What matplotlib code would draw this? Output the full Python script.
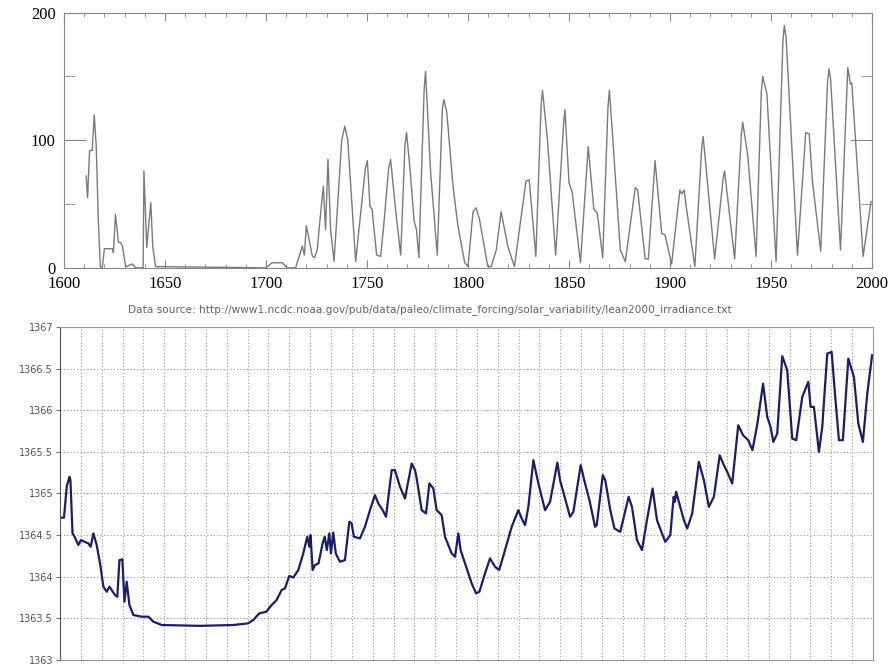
import numpy as np
import matplotlib
matplotlib.use("Agg")
import matplotlib.pyplot as plt
from matplotlib.ticker import MultipleLocator

# --- sunspot number ---
ss_year = [1611, 1611.7, 1612.7, 1614, 1615, 1616, 1617, 1618, 1619, 1620,
           1624, 1624.5, 1625.5, 1627, 1628, 1629, 1630.5, 1634, 1635.5, 1639.2,
           1639.6, 1641, 1643, 1644, 1645.4, 1700, 1703, 1708, 1710.6, 1714.7,
           1718, 1719, 1720, 1723, 1724, 1725.4, 1726.7, 1728.4, 1729.5, 1730.7,
           1732, 1733.7, 1737.5, 1739, 1740.5, 1744.4, 1749.2, 1750.2, 1751.5, 1752.5,
           1754.8, 1756.8, 1758.4, 1760.7, 1761.7, 1764, 1766.7, 1768.8, 1769.6, 1771.5,
           1773.3, 1774.5, 1775.7, 1778.3, 1779, 1781.5, 1784.8, 1787.3, 1788, 1789.5,
           1792.6, 1795, 1798.4, 1800, 1802.5, 1804, 1805.7, 1809.8, 1811.5, 1814,
           1816.4, 1819.7, 1823, 1828.7, 1830.3, 1833.6, 1836.2, 1836.9, 1839.3, 1843.4,
           1847.3, 1848, 1850, 1851.6, 1855.7, 1859.5, 1862.3, 1864, 1866.7, 1869.3,
           1870, 1871.3, 1875.4, 1877.9, 1882.8, 1884, 1887.7, 1889.3, 1892.6, 1895.9,
           1897.5, 1900.8, 1904.9, 1905.8, 1907, 1908.2, 1912.3, 1915.7, 1916.4, 1922.1,
           1926.3, 1927, 1932, 1935.3, 1936, 1938.5, 1942.6, 1945.2, 1945.9, 1948,
           1952.5, 1955.9, 1956.6, 1957.5, 1963.1, 1967.2, 1968.9, 1970.5, 1974.6, 1978,
           1978.7, 1979.5, 1984.4, 1988, 1989.3, 1990, 1995.6, 1999.5]
ss_value = [72, 55, 92, 92, 120, 95, 38, 1, 0, 15,
            15, 12, 42, 20, 20, 17, 1, 3, 0, 0,
            76, 16, 51, 16, 1, 0, 4, 4, 0, 0,
            17, 10, 33, 9, 8, 14, 37, 64, 30, 85,
            30, 5, 100, 111, 100, 5, 78, 84, 48, 46,
            10, 9, 35, 78, 85, 48, 10, 96, 106, 74,
            37, 30, 8, 140, 154, 75, 10, 124, 132, 122,
            64, 33, 4, 1, 44, 47, 38, 1, 1, 14,
            44, 17, 1, 68, 69, 9, 128, 139, 101, 10,
            112, 124, 67, 59, 4, 95, 46, 43, 8, 126,
            139, 110, 14, 5, 63, 61, 7, 7, 84, 27,
            26, 3, 61, 58, 61, 46, 1, 94, 103, 7,
            70, 76, 7, 104, 114, 88, 9, 138, 150, 136,
            5, 178, 190, 180, 10, 106, 105, 68, 13, 146,
            156, 148, 14, 157, 144, 145, 9, 52]

# --- total solar irradiance, Lean 2000 ---
tsi_year = [1610, 1611.9, 1613.2, 1614.5, 1615, 1616, 1617, 1618.8, 1620, 1623.6,
            1624.7, 1626, 1627.6, 1629.2, 1630.8, 1632.4, 1633.7, 1636.4, 1637.5, 1638.5,
            1639.9, 1640.9, 1642, 1643.3, 1645.2, 1649.2, 1652.4, 1654.8, 1658.8, 1677,
            1693, 1700.3, 1702.7, 1705.6, 1709, 1711.5, 1713.9, 1716.3, 1717.9, 1720,
            1721.9, 1724.3, 1726.7, 1728.6, 1729.6, 1730.2, 1731.2, 1732.3, 1734, 1736,
            1737, 1738, 1739.2, 1740, 1741.1, 1742.3, 1744.3, 1746.7, 1748.8, 1749.9,
            1751, 1753.9, 1756.3, 1758.7, 1761.1, 1762.7, 1764.8, 1766.4, 1769.1, 1770.7,
            1773.1, 1775.5, 1778.7, 1780.3, 1781, 1783.5, 1785.6, 1787.2, 1789.1, 1790.7,
            1793.1, 1794.7, 1797.9, 1799.5, 1801.1, 1802.2, 1804.3, 1807.5, 1809.6, 1811.2,
            1813.9, 1816.3, 1818.7, 1820.7, 1823.5, 1826.7, 1829.9, 1831.5, 1833.1, 1834.7,
            1837.1, 1839.5, 1842.7, 1845.1, 1848.6, 1849.9, 1852.3, 1854.7, 1856.3, 1859.8,
            1861.9, 1864, 1866.7, 1867.5, 1870.4, 1871.6, 1874, 1876, 1878.8, 1882.8,
            1884.4, 1886.8, 1889.2, 1891.6, 1894.3, 1896.4, 1898.8, 1900.4, 1902.8, 1904.4,
            1905, 1905.6, 1906.9, 1909.3, 1910.9, 1913.3, 1916.5, 1918.9, 1921.3, 1923.7,
            1926.5, 1928.5, 1930.1, 1932.5, 1935.4, 1937.7, 1940.2, 1942.2, 1944.6, 1947.3,
            1949.3, 1950.9, 1952.2, 1954.1, 1956.5, 1958.9, 1961.3, 1963.2, 1966.1, 1969,
            1970.1, 1971.7, 1974.1, 1975.7, 1978.1, 1980.2, 1981.8, 1983.7, 1985.6, 1988.2,
            1990.9, 1993, 1995.2, 1997.3, 1999.6]
tsi_value = [1364.71, 1364.71, 1365.08, 1365.20, 1365.16, 1364.52, 1364.48, 1364.38, 1364.44, 1364.40,
             1364.36, 1364.52, 1364.38, 1364.16, 1363.88, 1363.82, 1363.88, 1363.78, 1363.76, 1364.20,
             1364.21, 1363.70, 1363.94, 1363.66, 1363.54, 1363.52, 1363.52, 1363.46, 1363.42, 1363.41,
             1363.42, 1363.44, 1363.48, 1363.56, 1363.58, 1363.66, 1363.72, 1363.84, 1363.86, 1364.01,
             1363.99, 1364.08, 1364.28, 1364.48, 1364.36, 1364.50, 1364.08, 1364.14, 1364.16, 1364.40,
             1364.48, 1364.32, 1364.52, 1364.28, 1364.53, 1364.28, 1364.18, 1364.20, 1364.66, 1364.64,
             1364.48, 1364.46, 1364.60, 1364.80, 1364.98, 1364.88, 1364.80, 1364.72, 1365.28, 1365.28,
             1365.08, 1364.94, 1365.36, 1365.28, 1365.20, 1364.80, 1364.76, 1365.12, 1365.06, 1364.80,
             1364.74, 1364.48, 1364.28, 1364.24, 1364.52, 1364.32, 1364.16, 1363.92, 1363.80, 1363.82,
             1364.04, 1364.22, 1364.12, 1364.08, 1364.32, 1364.60, 1364.80, 1364.70, 1364.62, 1364.84,
             1365.40, 1365.12, 1364.80, 1364.90, 1365.37, 1365.16, 1364.94, 1364.72, 1364.78, 1365.34,
             1365.12, 1364.92, 1364.60, 1364.62, 1365.22, 1365.16, 1364.80, 1364.58, 1364.54, 1364.96,
             1364.84, 1364.44, 1364.32, 1364.68, 1365.06, 1364.68, 1364.52, 1364.42, 1364.50, 1364.96,
             1364.90, 1365.02, 1364.90, 1364.68, 1364.58, 1364.76, 1365.38, 1365.16, 1364.84, 1364.96,
             1365.46, 1365.34, 1365.26, 1365.12, 1365.82, 1365.70, 1365.64, 1365.52, 1365.84, 1366.32,
             1365.92, 1365.80, 1365.62, 1365.72, 1366.65, 1366.48, 1365.66, 1365.64, 1366.16, 1366.34,
             1366.04, 1366.04, 1365.50, 1365.80, 1366.68, 1366.70, 1366.20, 1365.64, 1365.64, 1366.62,
             1366.40, 1365.84, 1365.62, 1366.20, 1366.66]

source_text = ("Data source: http://www1.ncdc.noaa.gov/pub/data/paleo/climate_forcing/"
               "solar_variability/lean2000_irradiance.txt")

fig = plt.figure(figsize=(8.88, 6.68), dpi=100)

# --- top: sunspot number ---
ax1 = fig.add_axes([0.072, 0.599, 0.910, 0.382])
ax1.plot(ss_year, ss_value, color="#7a7a7a", lw=1.0)
ax1.set_xlim(1600, 2000)
ax1.set_ylim(0, 200)
ax1.xaxis.set_major_locator(MultipleLocator(50))
ax1.xaxis.set_minor_locator(MultipleLocator(10))
ax1.yaxis.set_major_locator(MultipleLocator(100))
ax1.yaxis.set_minor_locator(MultipleLocator(50))
ax1.tick_params(which="both", direction="in", color="#888888",
                top=True, right=True, labelsize=12, pad=6)
ax1.tick_params(axis="y", which="major", length=16)
ax1.tick_params(axis="y", which="minor", length=8)
ax1.tick_params(axis="x", which="major", length=6)
ax1.tick_params(axis="x", which="minor", length=3)
for lab in ax1.get_xticklabels() + ax1.get_yticklabels():
    lab.set_family("Liberation Serif")
for sp in ax1.spines.values():
    sp.set_color("#888888")

fig.text(0.144, 0.536, source_text, ha="left", va="center",
         fontsize=7.6, color="#666666")

# --- bottom: irradiance ---
ax2 = fig.add_axes([0.0676, 0.012, 0.9154, 0.4985])
ax2.plot(tsi_year, tsi_value, color="#1c1c6b", lw=1.6)
ax2.set_xlim(1610, 2000)
ax2.set_ylim(1363, 1367)
ax2.set_xticks(np.arange(1620, 2000, 10))
ax2.set_yticks(np.arange(1363, 1367.01, 0.5))
ax2.set_yticklabels([f"{v:g}" for v in np.arange(1363, 1367.01, 0.5)])
ax2.tick_params(axis="x", length=0, labelbottom=False)
ax2.tick_params(axis="y", length=3, color="#777777", labelsize=7,
                labelcolor="#555555", pad=2)
ax2.grid(True, color="#999999", ls=(0, (1, 2)), lw=0.8)
for sp in ax2.spines.values():
    sp.set_color("#999999")
ax2.spines["left"].set_color("#555555")

fig.savefig("out.png", dpi=100)
